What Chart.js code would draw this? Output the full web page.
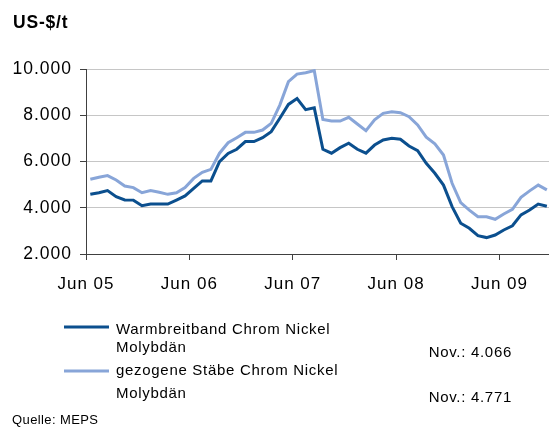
<!DOCTYPE html>
<html>
<head>
<meta charset="utf-8">
<script src="https://cdn.jsdelivr.net/npm/chart.js@4.4.0/dist/chart.umd.min.js"></script>
<style>
  html, body { margin: 0; padding: 0; background: #ffffff; overflow: hidden; }
  canvas { display: block; }
</style>
</head>
<body>
<canvas id="c" width="549" height="428"></canvas>
<script>
// Monthly price series, Jun 2005 – Nov 2009 (US-$ per tonne)
const months = [
  'Jun 05','Jul 05','Aug 05','Sep 05','Okt 05','Nov 05','Dez 05','Jan 06','Feb 06','Mär 06','Apr 06','Mai 06',
  'Jun 06','Jul 06','Aug 06','Sep 06','Okt 06','Nov 06','Dez 06','Jan 07','Feb 07','Mär 07','Apr 07','Mai 07',
  'Jun 07','Jul 07','Aug 07','Sep 07','Okt 07','Nov 07','Dez 07','Jan 08','Feb 08','Mär 08','Apr 08','Mai 08',
  'Jun 08','Jul 08','Aug 08','Sep 08','Okt 08','Nov 08','Dez 08','Jan 09','Feb 09','Mär 09','Apr 09','Mai 09',
  'Jun 09','Jul 09','Aug 09','Sep 09','Okt 09','Nov 09'
];

const tickLabels = ['Jun 05', 'Jun 06', 'Jun 07', 'Jun 08', 'Jun 09'];
const yTicks = [2000, 4000, 6000, 8000, 10000];

const warmbreitband = [
  4580, 4650, 4740, 4480, 4340, 4330, 4090, 4160, 4160, 4160, 4330, 4510,
  4840, 5160, 5160, 5990, 6350, 6530, 6860, 6860, 7030, 7290, 7870, 8470,
  8720, 8240, 8320, 6530, 6360, 6600, 6790, 6530, 6360, 6710, 6930, 7000,
  6960, 6670, 6470, 5920, 5490, 4980, 4050, 3330, 3110, 2790, 2710, 2820,
  3040, 3220, 3690, 3900, 4160, 4066
];

const gezogeneStaebe = [
  5230, 5320, 5390, 5200, 4940, 4870, 4650, 4740, 4670, 4580, 4650, 4870,
  5270, 5530, 5660, 6360, 6810, 7030, 7260, 7260, 7360, 7650, 8440, 9450,
  9780, 9840, 9930, 7820, 7750, 7750, 7910, 7620, 7330, 7800, 8080, 8150,
  8110, 7940, 7580, 7050, 6760, 6280, 5060, 4220, 3900, 3610, 3610, 3500,
  3730, 3930, 4450, 4730, 4980, 4771
];

const seriesLabels = [
  ['Warmbreitband Chrom Nickel', 'Molybdän'],
  ['gezogene Stäbe Chrom Nickel', 'Molybdän']
];
const unitTitle = 'US-$/t';
const sourceNote = 'Quelle: MEPS';

const FONT = '"Liberation Sans", Arial, Helvetica, sans-serif';

// German thousands separator: 10000 -> "10.000"
const fmt = v => String(v).replace(/\B(?=(\d{3})+(?!\d))/g, '.');

// Each month occupies one unit on the x scale; points sit in the middle of their month
const toPoints = arr => arr.map((v, i) => ({ x: i + 0.5, y: v }));

const spacing = {
  id: 'spacing',
  beforeUpdate(chart) { chart.ctx.letterSpacing = '1px'; },
  beforeDraw(chart) { chart.ctx.letterSpacing = '1px'; }
};

// Title, legend with latest values, and source line
const annotations = {
  id: 'annotations',
  afterDraw(chart) {
    const ctx = chart.ctx;
    ctx.save();
    ctx.fillStyle = '#000000';
    ctx.textBaseline = 'alphabetic';
    ctx.textAlign = 'left';

    ctx.font = 'bold 17.5px ' + FONT;
    ctx.letterSpacing = '0.8px';
    ctx.fillText(unitTitle, 13, 28);

    const entries = [
      { lineY: 327, textY: [333.5, 351.5], valueY: 356.5 },
      { lineY: 371, textY: [375, 398], valueY: 401.5 }
    ];
    const lastMonth = months[months.length - 1].split(' ')[0];
    chart.data.datasets.forEach((ds, k) => {
      const e = entries[k];
      ctx.strokeStyle = ds.borderColor;
      ctx.lineWidth = 3;
      ctx.lineCap = 'butt';
      ctx.beginPath();
      ctx.moveTo(64, e.lineY);
      ctx.lineTo(109, e.lineY);
      ctx.stroke();

      ctx.font = '15px ' + FONT;
      ctx.letterSpacing = '0.7px';
      ctx.textAlign = 'left';
      seriesLabels[k].forEach((t, j) => ctx.fillText(t, 116, e.textY[j]));

      const last = ds.data[ds.data.length - 1].y;
      ctx.textAlign = 'right';
      ctx.fillText(lastMonth + '.: ' + fmt(last), 512, e.valueY);
    });

    ctx.textAlign = 'left';
    ctx.font = '13px ' + FONT;
    ctx.letterSpacing = '0.4px';
    ctx.fillText(sourceNote, 12, 424);
    ctx.restore();
  }
};

new Chart(document.getElementById('c'), {
  type: 'line',
  data: {
    datasets: [
      {
        label: seriesLabels[0].join(' '),
        data: toPoints(warmbreitband),
        borderColor: '#0b4f8e',
        borderWidth: 3,
        pointRadius: 0,
        tension: 0,
        fill: false
      },
      {
        label: seriesLabels[1].join(' '),
        data: toPoints(gezogeneStaebe),
        borderColor: '#88a5d8',
        borderWidth: 3,
        pointRadius: 0,
        tension: 0,
        fill: false
      }
    ]
  },
  options: {
    responsive: false,
    animation: false,
    devicePixelRatio: 1,
    layout: { padding: { top: 69, right: 0, bottom: 0, left: 0 } },
    plugins: {
      legend: { display: false },
      title: { display: false },
      tooltip: { enabled: false }
    },
    scales: {
      x: {
        type: 'linear',
        min: 0,
        max: 53.75,
        afterBuildTicks: s => { s.ticks = tickLabels.map(l => ({ value: months.indexOf(l) })); },
        afterFit: s => { s.height = 174; },
        ticks: {
          autoSkip: false,
          maxRotation: 0,
          padding: 14,
          color: '#000000',
          font: { family: FONT, size: 17 },
          callback: v => months[v]
        },
        grid: {
          drawOnChartArea: false,
          tickLength: 6,
          tickColor: '#404040',
          tickWidth: 1
        },
        border: { display: true, color: '#404040', width: 1 }
      },
      y: {
        min: 2000,
        max: 10000,
        afterBuildTicks: s => { s.ticks = yTicks.map(v => ({ value: v })); },
        afterFit: s => { s.width = 86; },
        ticks: {
          padding: 8,
          color: '#000000',
          font: { family: FONT, size: 17.5 },
          callback: v => fmt(v)
        },
        grid: {
          color: '#c6c6c6',
          lineWidth: 1,
          tickLength: 6,
          tickColor: '#404040'
        },
        border: { display: true, color: '#404040', width: 1 }
      }
    }
  },
  plugins: [spacing, annotations]
});
</script>
</body>
</html>
